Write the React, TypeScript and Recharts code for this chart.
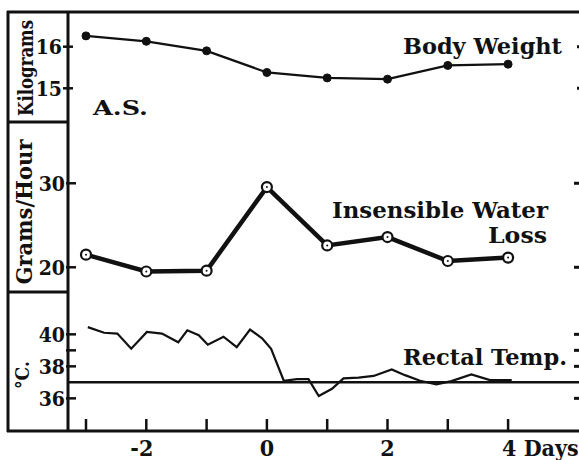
import { ComposedChart, Line, XAxis, YAxis, ReferenceLine } from "recharts"

// days relative to the start of the experiment
const days = [-3, -2, -1, 0, 1, 2, 3, 4]
const dayTickLabels = ["", "-2", "", "0", "", "2", "", "4 Days"]

// kilograms
const bodyWeight = [16.26, 16.13, 15.9, 15.38, 15.25, 15.22, 15.55, 15.58]
// grams per hour
const waterLoss = [21.5, 19.5, 19.6, 29.55, 22.6, 23.6, 20.75, 21.15]

// rectal temperature readings, °C
const tempDays = [
  -2.97, -2.7, -2.48, -2.25, -1.99, -1.74, -1.47, -1.32, -1.13, -0.98, -0.72, -0.5, -0.28, -0.08,
  0.07, 0.28, 0.5, 0.69, 0.86, 1.08, 1.27, 1.52, 1.77, 2.07, 2.29, 2.54, 2.81, 3.06, 3.39, 3.7, 4.06,
]
const rectalTemp = [
  40.45, 40.1, 40.05, 39.1, 40.15, 40.05, 39.5, 40.25, 39.95, 39.35, 39.85, 39.2, 40.3, 39.75,
  39.1, 37.1, 37.2, 37.2, 36.15, 36.6, 37.25, 37.3, 37.4, 37.8, 37.45, 37.1, 36.88, 37.08, 37.5, 37.14, 37.14,
]

const weightTicks = [15, 16]
const waterTicks = [20, 30]
const tempTicks = [36, 38, 39, 40]
const tempLabelTicks = [36, 38, 40]
const baselineTemp = 37

const dailyData = days.map((d, i) => ({ day: d, weight: bodyWeight[i], water: waterLoss[i] }))
const tempData = tempDays.map((d, i) => ({ day: d, temp: rectalTemp[i] }))

const INK = "#111"
const SERIF = "'DejaVu Serif', serif"
const NUM = "'DejaVu Serif Condensed', 'DejaVu Serif', serif"

function DayTick(props: { x?: number; y?: number; payload?: { value: number } }) {
  const { x = 0, y = 0, payload } = props
  if (!payload) return null
  const label = dayTickLabels[days.indexOf(payload.value)] ?? ""
  const neg = label.startsWith("-")
  const wide = label.length > 2
  return (
    <g>
      <line x1={x} x2={x} y1={y} y2={y - 12} stroke={INK} strokeWidth={2.5} />
      {label && (
        <text
          x={neg ? x + 7 : wide ? x - 6 : x}
          y={y + 25}
          textAnchor={neg ? "end" : wide ? "start" : "middle"}
          fill={INK}
          fontFamily={NUM}
          fontWeight="bold"
          fontSize={23}
        >
          {label}
        </text>
      )}
    </g>
  )
}

function makeLeftTick(labels: number[]) {
  return function LeftTick(props: { x?: number; y?: number; payload?: { value: number } }) {
    const { x = 0, y = 0, payload } = props
    if (!payload) return null
    const show = labels.includes(payload.value)
    return (
      <g>
        <line x1={x - 3} x2={x + 7} y1={y} y2={y} stroke={INK} strokeWidth={2.5} />
        {show && (
          <text x={x - 4} y={y + 7.5} textAnchor="end" fill={INK} fontFamily={NUM} fontWeight="bold" fontSize={21}>
            {payload.value}
          </text>
        )}
      </g>
    )
  }
}

function RightTick(props: { x?: number; y?: number }) {
  const { x = 0, y = 0 } = props
  return <line x1={x - 5} x2={x + 2} y1={y} y2={y} stroke={INK} strokeWidth={3} />
}

function WaterDot(props: { cx?: number; cy?: number }) {
  const { cx, cy } = props
  if (cx == null || cy == null) return null
  return (
    <g>
      <circle cx={cx} cy={cy} r={5} fill="#fff" stroke={INK} strokeWidth={2.2} />
      <circle cx={cx} cy={cy} r={1} fill={INK} />
    </g>
  )
}

const weightDomain: [number, number] = [6.762, 16.834]
const waterDomain: [number, number] = [0.51, 50.39]
const tempDomain: [number, number] = [33.96, 60.14]

// axes are 1px wide each; tickMargin pulls the stacked ones back onto the frame line
const axisBase = { width: 1, axisLine: false, tickLine: false, tickSize: 0, interval: 0 as const, allowDataOverflow: true }

export default function App() {
  const labelStyle = { fontFamily: SERIF, fontWeight: "bold" as const, fill: INK }
  return (
    <div style={{ position: "fixed", left: 0, top: 0, width: 579, height: 460, overflow: "hidden", background: "#fff" }}>
      <div style={{ position: "absolute", left: 8, top: 8 }}>
        <ComposedChart width={580} height={452} margin={{ top: 4, right: 5, left: 57, bottom: 0 }}>
          <XAxis
            dataKey="day"
            type="number"
            domain={[-3.2985, 5.1925]}
            ticks={days}
            allowDataOverflow
            axisLine={false}
            tickLine={false}
            tickSize={0}
            tickMargin={0}
            height={29}
            tick={<DayTick />}
            interval={0}
          />
          <YAxis yAxisId="w" {...axisBase} domain={weightDomain} ticks={weightTicks} tickMargin={0} tick={makeLeftTick(weightTicks)} />
          <YAxis yAxisId="h" {...axisBase} domain={waterDomain} ticks={waterTicks} tickMargin={-1} tick={makeLeftTick(waterTicks)} />
          <YAxis yAxisId="t" {...axisBase} domain={tempDomain} ticks={tempTicks} tickMargin={-2} tick={makeLeftTick(tempLabelTicks)} />
          <YAxis yAxisId="wr" {...axisBase} orientation="right" domain={weightDomain} ticks={weightTicks} tickMargin={0} tick={<RightTick />} />
          <YAxis yAxisId="hr" {...axisBase} orientation="right" domain={waterDomain} ticks={waterTicks} tickMargin={-1} tick={<RightTick />} />
          <YAxis yAxisId="tr" {...axisBase} orientation="right" domain={tempDomain} ticks={tempTicks} tickMargin={-2} tick={<RightTick />} />
          <ReferenceLine yAxisId="t" y={baselineTemp} stroke={INK} strokeWidth={2.5} />
          <Line
            yAxisId="w"
            data={dailyData}
            dataKey="weight"
            stroke={INK}
            strokeWidth={2.3}
            dot={{ r: 4, fill: INK, stroke: INK, strokeWidth: 1 }}
            isAnimationActive={false}
          />
          <Line
            yAxisId="h"
            data={dailyData}
            dataKey="water"
            stroke={INK}
            strokeWidth={4.5}
            dot={(p: any) => <WaterDot key={p.index} cx={p.cx} cy={p.cy} />}
            isAnimationActive={false}
          />
          <Line
            yAxisId="t"
            data={tempData}
            dataKey="temp"
            stroke={INK}
            strokeWidth={2.2}
            strokeLinejoin="miter"
            dot={false}
            isAnimationActive={false}
          />
        </ComposedChart>
      </div>
      {/* frame and hand-lettered labels */}
      <svg width={579} height={460} style={{ position: "absolute", left: 0, top: 0, pointerEvents: "none" }}>
        <g stroke={INK} strokeWidth={3}>
          <line x1={7} x2={579} y1={12} y2={12} />
          <line x1={7} x2={579} y1={431} y2={431} />
          <line x1={8} x2={8} y1={11} y2={432} />
          <line x1={68} x2={68} y1={11} y2={432} />
          <line x1={8} x2={68} y1={122} y2={122} />
          <line x1={8} x2={68} y1={292} y2={292} />
        </g>
        <text x={403} y={54} fontSize={23} textLength={159} lengthAdjust="spacingAndGlyphs" {...labelStyle}>Body Weight</text>
        <text x={332} y={218} fontSize={23} textLength={216} lengthAdjust="spacingAndGlyphs" {...labelStyle}>Insensible Water</text>
        <text x={488} y={243} fontSize={23} textLength={59} lengthAdjust="spacingAndGlyphs" {...labelStyle}>Loss</text>
        <text x={403} y={365} fontSize={23} textLength={164} lengthAdjust="spacingAndGlyphs" {...labelStyle}>Rectal Temp.</text>
        <text x={93} y={115} fontSize={21} textLength={55} lengthAdjust="spacingAndGlyphs" {...labelStyle}>A.S.</text>
        <text transform="translate(33,68) rotate(-90)" textAnchor="middle" fontSize={20} textLength={96} lengthAdjust="spacingAndGlyphs" {...labelStyle}>Kilograms</text>
        <text transform="translate(32,212) rotate(-90)" textAnchor="middle" fontSize={22} textLength={145} lengthAdjust="spacingAndGlyphs" {...labelStyle}>Grams/Hour</text>
        <text transform="translate(29,375) rotate(-90)" textAnchor="middle" fontSize={19} textLength={28} lengthAdjust="spacingAndGlyphs" {...labelStyle}>°C.</text>
      </svg>
    </div>
  )
}
